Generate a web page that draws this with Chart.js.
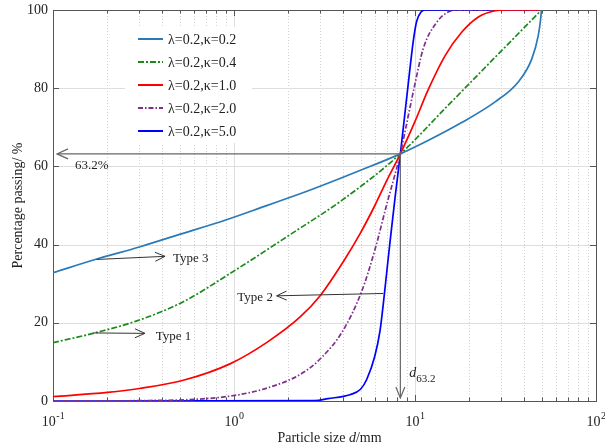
<!DOCTYPE html>
<html><head><meta charset="utf-8">
<script src="https://cdn.jsdelivr.net/npm/chart.js@4.4.1/dist/chart.umd.min.js"></script>
<style>html,body{margin:0;padding:0;background:#fff}#wrap{width:605px;height:448px}</style>
</head><body><div id="wrap"><canvas id="c" width="605" height="448"></canvas></div>
<script>
// ---- data ----
const seriesLabels = ['\u03bb=0.2,\u03ba=0.2','\u03bb=0.2,\u03ba=0.4','\u03bb=0.2,\u03ba=1.0','\u03bb=0.2,\u03ba=2.0','\u03bb=0.2,\u03ba=5.0'];
const sizeK02 = [0.1,0.18,0.3,0.5,0.9,1.5,2.32,2.8,5,8.3,11.8,18.1,27.7,37.2,44.2,48,49.4,50];
const passK02 = [32.8,36.5,39.4,42.6,46.3,49.9,53.0,54.4,59.0,63.2,66.6,71.2,76.5,81.6,87.5,93.5,97.5,100];
const sizeK04 = [0.1,0.18,0.3,0.525,0.95,2.08,3.94,8.3,15,25,50];
const passK04 = [14.9,17.7,20.7,25.4,32.6,42.8,51.3,63.2,75.3,85.8,100];
const sizeK10 = [0.1,0.2,0.3,0.525,0.95,1.52,2.32,3,4,5,6,7,8.3,10,11.8,14.7,18.1,22.4,27.7,32,50];
const passK10 = [1.1,2.2,3.2,5.3,9.5,15.0,21.5,27,35.5,43,50,56.5,63.2,71.5,79.5,88.4,94.3,98.2,99.8,100,100];
const sizeK20 = [0.1,0.3,0.65,1.0,1.52,2.32,3,4,5.07,6,7,7.59,8.3,8.8,9.87,11.1,13.2,15.9,17.5,50];
const passK20 = [0,0.1,0.5,1.4,3.3,6.8,10.8,18,28,38.6,50.5,56.4,63.2,68.8,79.9,90.1,96.9,99.8,100,100];
const sizeK50 = [0.1,2.8,3.3,4.37,5.0,5.41,6.0,6.41,6.68,7.0,7.27,7.76,8.3,8.72,9.17,9.78,10.2,10.8,11.4,50];
const passK50 = [0,0.1,0.6,1.6,3.0,5.5,11.5,18,24.8,33.5,40.5,52,63.2,72,81,92,97,99.5,100,100];
const xTickValues = [0.1,1,10,100];
const xTickExponents = ['-1','0','1','2'];
const yTickValues = [0,20,40,60,80,100];
const d632 = 8.3, p632 = 63.2;

const colors = ['#2a7ab9','#1b8a1b','#ff0000','#7e2f8e','#0000ff'];
const dashes = [[],[6,2,2,2],[],[5,2,1.5,2],[]];
const sizes = [sizeK02,sizeK04,sizeK10,sizeK20,sizeK50];
const passes = [passK02,passK04,passK10,passK20,passK50];

const FONT = '"Liberation Serif","Times New Roman",serif';

function arrowHead(ctx, tx, ty, dx, dy, len, half){
  const L = Math.hypot(dx,dy); dx/=L; dy/=L;
  const px=-dy, py=dx;
  ctx.beginPath();
  ctx.moveTo(tx - dx*len + px*half, ty - dy*len + py*half);
  ctx.lineTo(tx, ty);
  ctx.lineTo(tx - dx*len - px*half, ty - dy*len - py*half);
  ctx.stroke();
}

const decor = {
  id:'decor',
  beforeDatasetsDraw(chart){
    const {ctx, chartArea:a, scales:{x,y}} = chart;
    ctx.save();
    for (let e=-1;e<2;e++){
      for (let m=1;m<10;m++){
        const v = m*Math.pow(10,e);
        const px = Math.round(x.getPixelForValue(v))+0.5;
        if (m===1){ if (e===-1) continue; ctx.strokeStyle='#dedede'; ctx.setLineDash([]); }
        else { ctx.strokeStyle='#d2d2d2'; ctx.setLineDash([1,2]); }
        ctx.lineWidth=1;
        ctx.beginPath(); ctx.moveTo(px,a.top); ctx.lineTo(px,a.bottom); ctx.stroke();
      }
    }
    ctx.setLineDash([]);
    ctx.strokeStyle='#dedede';
    yTickValues.forEach(v=>{
      if (v===0||v===100) return;
      const py = Math.round(y.getPixelForValue(v))+0.5;
      ctx.beginPath(); ctx.moveTo(a.left,py); ctx.lineTo(a.right,py); ctx.stroke();
    });
    ctx.strokeStyle='#555'; ctx.lineWidth=1;
    ctx.strokeRect(Math.round(a.left)+0.5, Math.round(a.top)+0.5, Math.round(a.right-a.left), Math.round(a.bottom-a.top));
    ctx.beginPath();
    for (let e=-1;e<2;e++){
      for (let m=1;m<10;m++){
        const v=m*Math.pow(10,e);
        const px=Math.round(x.getPixelForValue(v))+0.5;
        const len = m===1?6:3.5;
        ctx.moveTo(px,a.bottom); ctx.lineTo(px,a.bottom-len);
        ctx.moveTo(px,a.top); ctx.lineTo(px,a.top+len);
      }
    }
    yTickValues.forEach(v=>{
      const py=Math.round(y.getPixelForValue(v))+0.5;
      ctx.moveTo(a.left,py); ctx.lineTo(a.left+6,py);
      ctx.moveTo(a.right,py); ctx.lineTo(a.right-6,py);
    });
    ctx.stroke();
    ctx.restore();
  },
  afterDatasetsDraw(chart){
    const {ctx, chartArea:a, scales:{x,y}} = chart;
    ctx.save();
    ctx.fillStyle='#222';
    ctx.font='14px '+FONT; ctx.textAlign='right'; ctx.textBaseline='middle';
    yTickValues.forEach(v=>ctx.fillText(String(v), a.left-5, y.getPixelForValue(v)));
    xTickValues.forEach((v,i)=>{
      const cx=x.getPixelForValue(v);
      ctx.font='14px '+FONT;
      const w1=ctx.measureText('10').width;
      ctx.font='10px '+FONT;
      const w2=ctx.measureText(xTickExponents[i]).width;
      const x0=cx-(w1+w2)/2;
      ctx.textAlign='left'; ctx.textBaseline='alphabetic';
      ctx.font='14px '+FONT; ctx.fillText('10',x0,a.bottom+25);
      ctx.font='10px '+FONT; ctx.fillText(xTickExponents[i],x0+w1+0.5,a.bottom+18);
    });
    ctx.font='14px '+FONT;
    const t1='Particle size ', t2='d', t3='/mm';
    const w1=ctx.measureText(t1).width;
    ctx.font='italic 14px '+FONT; const w2=ctx.measureText(t2).width;
    ctx.font='14px '+FONT; const w3=ctx.measureText(t3).width;
    let sx=(a.left+a.right)/2 - (w1+w2+w3)/2 + 5;
    const by=a.bottom+41;
    ctx.textAlign='left';
    ctx.fillText(t1,sx,by);
    ctx.font='italic 14px '+FONT; ctx.fillText(t2,sx+w1,by);
    ctx.font='14px '+FONT; ctx.fillText(t3,sx+w1+w2,by);
    ctx.save();
    ctx.translate(22,(a.top+a.bottom)/2);
    ctx.rotate(-Math.PI/2);
    ctx.textAlign='center';
    ctx.fillText('Percentage passing/ %',0,0);
    ctx.restore();

    const ix=x.getPixelForValue(d632), iy=y.getPixelForValue(p632);
    ctx.strokeStyle='#666'; ctx.lineWidth=1.2;
    ctx.beginPath(); ctx.moveTo(ix,iy); ctx.lineTo(a.left+4,iy); ctx.stroke();
    arrowHead(ctx,a.left+4,iy,-1,0,11,5);
    ctx.beginPath(); ctx.moveTo(ix,iy); ctx.lineTo(ix,a.bottom-3); ctx.stroke();
    arrowHead(ctx,ix,a.bottom-3,0,1,11,4.5);
    ctx.fillStyle='#222';
    ctx.font='13px '+FONT; ctx.textAlign='left'; ctx.textBaseline='alphabetic';
    ctx.fillText('63.2%', a.left+22, iy+15);
    ctx.font='italic 14px '+FONT; ctx.fillText('d', ix+9, a.bottom-24);
    ctx.font='11px '+FONT; ctx.fillText('63.2', ix+16, a.bottom-19);

    ctx.strokeStyle='#333'; ctx.lineWidth=1;
    const arr=(x1,y1,x2,y2)=>{
      const X1=x.getPixelForValue(x1),Y1=y.getPixelForValue(y1),X2=x.getPixelForValue(x2),Y2=y.getPixelForValue(y2);
      ctx.beginPath(); ctx.moveTo(X1,Y1); ctx.lineTo(X2,Y2); ctx.stroke();
      arrowHead(ctx,X2,Y2,X2-X1,Y2-Y1,10,4.5);
    };
    arr(0.174,36.2,0.416,37.0);
    arr(0.167,17.4,0.322,17.3);
    arr(6.68,27.5,1.72,26.9);
    ctx.font='13px '+FONT; ctx.textAlign='left';
    ctx.fillText('Type 3', x.getPixelForValue(0.46), y.getPixelForValue(35.5));
    ctx.fillText('Type 1', x.getPixelForValue(0.369), y.getPixelForValue(15.6));
    ctx.textAlign='right';
    ctx.fillText('Type 2', x.getPixelForValue(1.64), y.getPixelForValue(25.6));

    ctx.fillStyle='#fff';
    ctx.fillRect(125,27,127,116);
    ctx.font='14px '+FONT; ctx.textAlign='left'; ctx.textBaseline='middle';
    chart.data.datasets.forEach((ds,i)=>{
      const ly=39+i*23;
      ctx.strokeStyle=ds.borderColor; ctx.lineWidth=2; ctx.setLineDash(ds.borderDash||[]);
      ctx.beginPath(); ctx.moveTo(138,ly); ctx.lineTo(163,ly); ctx.stroke();
      ctx.setLineDash([]);
      ctx.fillStyle='#222';
      ctx.fillText(ds.label,168,ly+1);
    });
    ctx.restore();
  }
};

new Chart(document.getElementById('c'),{
  type:'line',
  data:{datasets: seriesLabels.map((lab,i)=>({
    label:lab,
    data: sizes[i].map((d,j)=>({x:d,y:passes[i][j]})),
    borderColor:colors[i], borderWidth:1.7, borderDash:dashes[i],
    pointRadius:0, fill:false, cubicInterpolationMode:'monotone'
  }))},
  options:{
    responsive:false, animation:false,
    layout:{padding:{left:53,right:9,top:10,bottom:47}},
    scales:{
      x:{type:'logarithmic',min:0.1,max:100,display:false},
      y:{type:'linear',min:0,max:100,display:false}
    },
    plugins:{legend:{display:false},tooltip:{enabled:false}}
  },
  plugins:[decor]
});
</script></body></html>
